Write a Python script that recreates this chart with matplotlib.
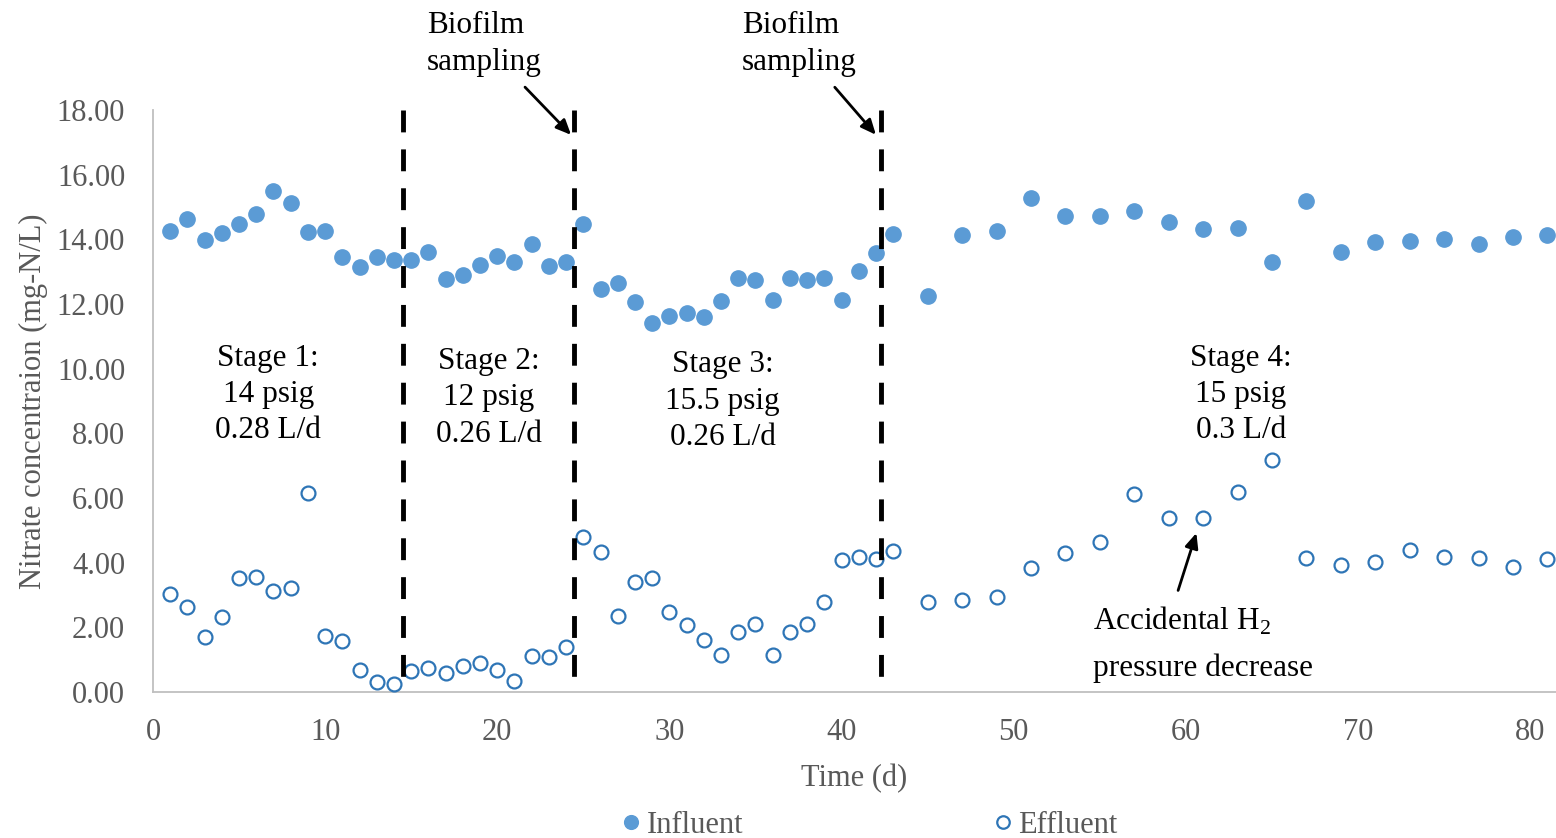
import matplotlib
matplotlib.use("Agg")
import matplotlib.pyplot as plt

plt.rcParams["font.family"] = ["Liberation Serif", "DejaVu Serif"]
plt.rcParams["mathtext.fontset"] = "custom"
plt.rcParams["mathtext.rm"] = "Liberation Serif"

# influent sampled daily until day 43, then every other day
days_in = list(range(1, 44)) + list(range(45, 82, 2))
influent = [14.26, 14.63, 13.98, 14.20, 14.48, 14.78, 15.50, 15.13, 14.22, 14.27,
            13.45, 13.15, 13.45, 13.36, 13.36, 13.60, 12.77, 12.90, 13.20, 13.49,
            13.30, 13.86, 13.18, 13.30, 14.48, 12.47, 12.65, 12.06, 11.41, 11.63,
            11.72, 11.60, 12.09, 12.80, 12.74, 12.12, 12.80, 12.74, 12.80, 12.12,
            13.02, 13.58, 14.17,
            12.25, 14.13, 14.26, 15.28, 14.72, 14.72, 14.88, 14.54, 14.32, 14.35,
            13.30, 15.19, 13.61, 13.92, 13.95, 14.01, 13.86, 14.07, 14.13]
days_ef = days_in
effluent = [3.03, 2.63, 1.70, 2.32, 3.53, 3.56, 3.12, 3.22, 6.16, 1.73,
            1.58, 0.68, 0.31, 0.25, 0.65, 0.74, 0.59, 0.80, 0.90, 0.68,
            0.34, 1.11, 1.08, 1.39, 4.79, 4.33, 2.35, 3.40, 3.53, 2.47,
            2.07, 1.61, 1.14, 1.86, 2.10, 1.14, 1.86, 2.10, 2.78, 4.08,
            4.18, 4.11, 4.36,
            2.78, 2.85, 2.94, 3.84, 4.30, 4.64, 6.12, 5.38, 5.38, 6.19,
            7.18, 4.14, 3.93, 4.02, 4.39, 4.18, 4.14, 3.87, 4.11]

# stage boundaries (biofilm sampling on the last two)
stage_breaks = [14.5, 24.45, 42.3]
stage_labels = ["Stage 1:\n14 psig\n0.28 L/d", "Stage 2:\n12 psig\n0.26 L/d",
                "Stage 3:\n15.5 psig\n0.26 L/d", "Stage 4:\n15 psig\n0.3 L/d"]
stage_label_x = [6.7, 19.5, 33.1, 63.2]
stage_label_y = [9.2, 9.1, 9.0, 9.2]

grey = "#595959"
fig = plt.figure(figsize=(15.56, 8.38), dpi=100)
ax = fig.add_axes([0.0983, 0.1742, 0.9017, 0.6945])

ax.plot(days_in, influent, "o", ms=11, color="#5B9BD5", mec="#5B9BD5",
        label="Influent", zorder=3)
ax.plot(days_ef, effluent, "o", ms=10, mfc="none", mec="#2E75B6", mew=1.6,
        label="Effluent", zorder=3)

# drawn top-down so the dash pattern starts at the top like the original
ax.vlines(stage_breaks, 18, 0, colors="black", lw=3.5,
          linestyles=[(0, (4.5, 3.5))], zorder=4)

for x, y, s in zip(stage_label_x, stage_label_y, stage_labels):
    ax.text(x, y, s, ha="center", va="center", fontsize=22.5, linespacing=1.33)

# biofilm sampling arrows
for tx, xs, xt in [(15.9, 21.5, 24.4), (34.2, 39.5, 42.1)]:
    ax.text(tx, 20.05, "Biofilm\nsampling", ha="left", va="center",
            fontsize=22.5, linespacing=1.36, clip_on=False)
    ax.annotate("", xy=(xt, 17.17), xytext=(xs, 18.77), annotation_clip=False,
                arrowprops=dict(arrowstyle="-|>,head_length=0.9,head_width=0.4",
                                color="black", lw=2))

ax.annotate("", xy=(60.66, 5.0), xytext=(59.5, 3.06),
            arrowprops=dict(arrowstyle="-|>,head_length=0.9,head_width=0.4",
                            color="black", lw=2))
ax.text(54.6, 2.2, r"Accidental H$_\mathregular{2}$", ha="left", va="center", fontsize=22.5)
ax.text(54.6, 0.74, "pressure decrease", ha="left", va="center", fontsize=22.5)

ax.set_xlim(0, 81.5)
ax.set_ylim(0, 18)
ax.set_xticks(range(0, 81, 10))
ax.set_yticks(range(0, 19, 2))
ax.set_yticklabels([f"{v:.2f}" for v in range(0, 19, 2)])
ax.tick_params(axis="both", length=0, labelsize=22, labelcolor=grey)
ax.tick_params(axis="x", pad=19)
ax.tick_params(axis="y", pad=20)
for side in ["top", "right"]:
    ax.spines[side].set_visible(False)
for side in ["left", "bottom"]:
    ax.spines[side].set_color("#BFBFBF")
    ax.spines[side].set_linewidth(1.3)

ax.set_xlabel("Time (d)", fontsize=22, color=grey, labelpad=12)
ax.set_ylabel("Nitrate concentraion (mg-N/L)", fontsize=22, color=grey, labelpad=6)

leg = fig.legend(loc="lower center", bbox_to_anchor=(0.557, -0.035), ncol=2,
                 frameon=False, fontsize=22, handletextpad=0.0,
                 columnspacing=8.0, handlelength=1.0, markerscale=0.9)
for t in leg.get_texts():
    t.set_color(grey)

fig.savefig("out.png", dpi=100)
